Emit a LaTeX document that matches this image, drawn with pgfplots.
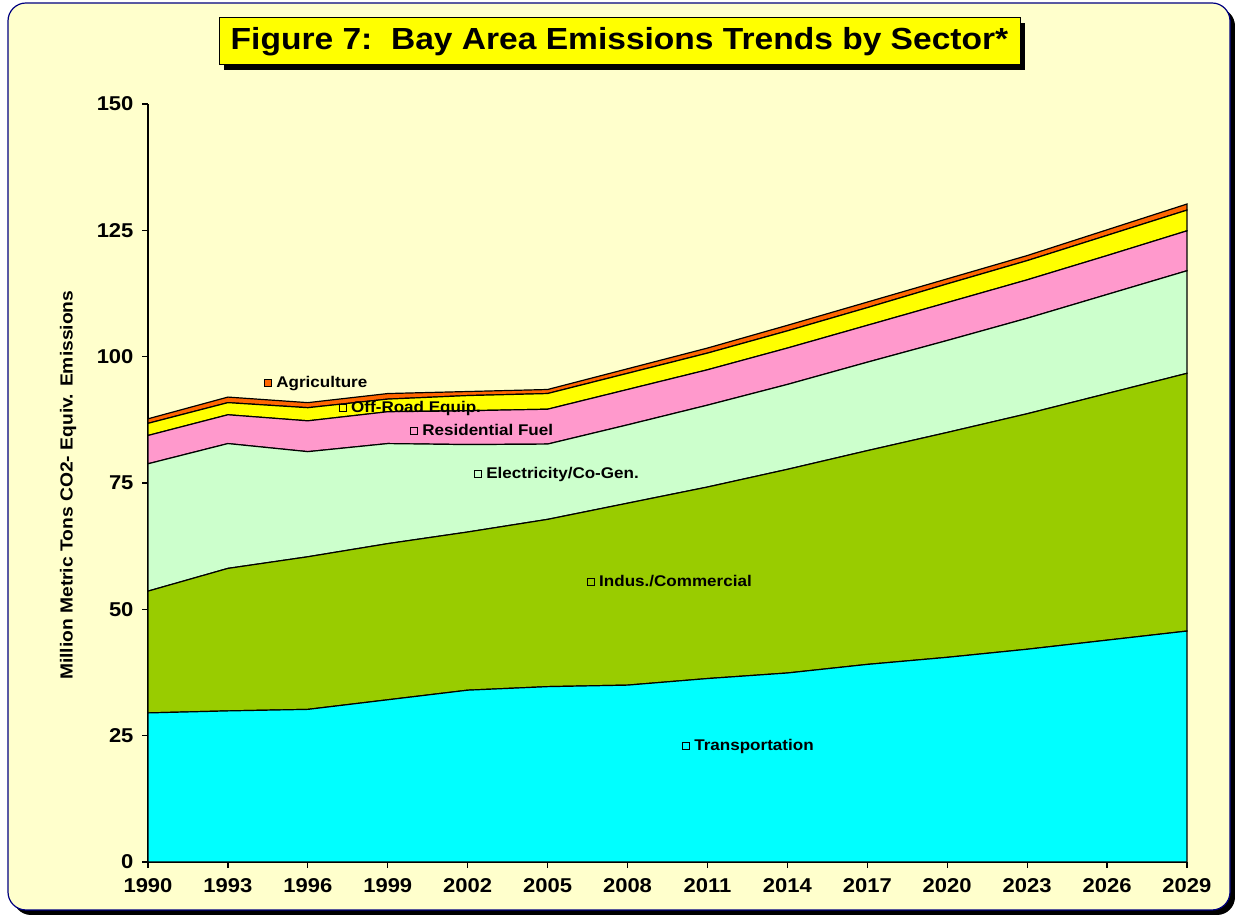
\documentclass[border=0pt]{standalone}
\usepackage{fontspec}
\setmainfont{Liberation Sans}[FakeStretch=1.1]
\usepackage{pgfplots}
\usepackage{pgfplotstable}
\pgfplotsset{compat=1.18}

\definecolor{bgyellow}{HTML}{FFFFCC}
\definecolor{transp}{HTML}{00FFFF}
\definecolor{indus}{HTML}{99CC00}
\definecolor{elec}{HTML}{CCFFCC}
\definecolor{resid}{HTML}{FF99CC}
\definecolor{offroad}{HTML}{FFFF00}
\definecolor{agri}{HTML}{FF6600}
\definecolor{frame}{HTML}{000080}

% Million metric tons CO2-equiv., by sector (stacked)
\pgfplotstableread{
year  T     I     E     R    O    A
1990  29.5  24.1  25.2  5.6  2.4  0.9
1993  29.9  28.2  24.7  5.7  2.4  1.1
1996  30.2  30.2  20.8  6.1  2.6  1.0
1999  32.1  30.9  19.8  6.3  2.5  1.1
2002  34.0  31.3  17.3  6.7  3.0  0.8
2005  34.7  33.1  14.9  6.9  3.1  0.8
2008  35.0  36.0  15.5  7.0  3.2  0.9
2011  36.3  37.9  16.2  7.0  3.3  1.0
2014  37.4  40.3  16.8  7.2  3.4  1.1
2017  39.1  42.3  17.5  7.3  3.5  1.1
2020  40.5  44.5  18.2  7.5  3.7  1.0
2023  42.1  46.6  18.9  7.6  3.8  1.0
2026  43.9  48.8  19.6  7.7  4.0  1.1
2029  45.7  51.0  20.3  7.9  4.1  1.2
}\emissions

\newcommand{\keybox}[1]{{\setlength{\fboxsep}{0pt}\setlength{\fboxrule}{1pt}%
  \raisebox{1.5pt}{\fcolorbox{black}{#1}{\rule{0pt}{6pt}\rule{6pt}{0pt}}}}}
\newcommand{\lblfont}{\bfseries\fontsize{15.5}{15.5}\selectfont}

\begin{document}
\begin{tikzpicture}[x=1pt,y=1pt]
\useasboundingbox (0,0) rectangle (1235,917);
\fill[white] (0,0) rectangle (1235,917);
% frame with shadow
\fill[black, rounded corners=18pt] (13,2) rectangle (1235,909);
\filldraw[fill=bgyellow, draw=frame, line width=1.2pt, rounded corners=18pt] (8,7) rectangle (1230,914);
% title box
\fill[black] (224,847) rectangle (1025,894);
\filldraw[fill=offroad, draw=black, line width=1pt] (219,852) rectangle (1020,899);
\node[font=\bfseries\fontsize{30.5}{30.5}\selectfont] at (619.5,875) {Figure 7:\ \ Bay Area Emissions Trends by Sector*};

\begin{axis}[
    at={(148pt,55pt)}, anchor=south west,
    width=1039pt, height=758pt, scale only axis,
    xmin=1990, xmax=2029, ymin=0, ymax=150,
    xtick={1990,1993,...,2029}, ytick={0,25,...,150},
    axis lines*=left,
    axis line style={black, line width=1.3pt},
    tick align=outside, major tick length=6pt,
    tick style={black, line width=1.2pt},
    /pgf/number format/assume math mode=true,
    x tick label style={/pgf/number format/1000 sep={}, yshift=-7pt},
    y tick label style={xshift=-5pt},
    tick label style={font=\bfseries\fontsize{20}{20}\selectfont},
    ylabel={Million Metric Tons CO2- Equiv. Emissions},
    ylabel style={font=\bfseries\fontsize{17.5}{17.5}\selectfont,
        at={(axis description cs:-0.077,0.497)}, anchor=center},
    stack plots=y,
    every axis plot/.append style={draw=black, line width=1.2pt},
    clip=false,
]
\addplot[fill=transp] table[x=year, y=T] {\emissions} \closedcycle;
\addplot[fill=indus] table[x=year, y=I] {\emissions} \closedcycle;
\addplot[fill=elec] table[x=year, y=E] {\emissions} \closedcycle;
\addplot[fill=resid] table[x=year, y=R] {\emissions} \closedcycle;
\addplot[fill=offroad] table[x=year, y=O] {\emissions} \closedcycle;
\addplot[fill=agri] table[x=year, y=A] {\emissions} \closedcycle;

\coordinate (lA) at (axis cs:1994.36,95.0);
\coordinate (lO) at (axis cs:1997.17,90.2);
\coordinate (lR) at (axis cs:1999.84,85.9);
\coordinate (lE) at (axis cs:2002.24,77.0);
\coordinate (lI) at (axis cs:2006.48,56.0);
\coordinate (lT) at (axis cs:2010.05,23.2);
\end{axis}
% data labels, drawn above the stacked areas
\begin{scope}[every node/.style={anchor=west, inner sep=0pt, yshift=-2pt, font=\lblfont}]
\node at (lA) {\keybox{agri}\hspace{4pt}Agriculture};
\node at (lO) {\keybox{offroad}\hspace{4pt}Off-Road Equip.};
\node at (lR) {\keybox{resid}\hspace{4pt}Residential Fuel};
\node at (lE) {\keybox{elec}\hspace{4pt}Electricity/Co-Gen.};
\node at (lI) {\keybox{indus}\hspace{4pt}Indus./Commercial};
\node at (lT) {\keybox{transp}\hspace{4pt}Transportation};
\end{scope}
\end{tikzpicture}
\end{document}
